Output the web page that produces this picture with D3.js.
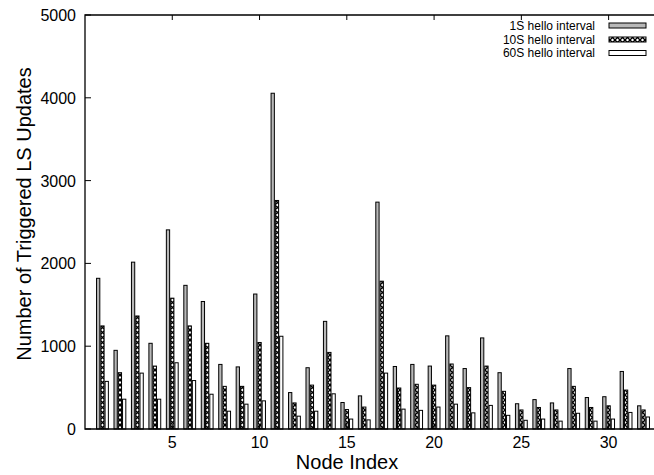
<!DOCTYPE html>
<html lang="en">
<head>
<meta charset="utf-8">
<title>Triggered LS Updates</title>
<script src="https://d3js.org/d3.v7.min.js"></script>
<style>
  body { margin: 0; background: #fff; }
  text { font-family: "Liberation Sans", Arial, Helvetica, sans-serif; fill: #000; }
</style>
</head>
<body>
<svg id="chart" width="654" height="475"></svg>
<script>
// data
const nodes = [1,2,3,4,5,6,7,8,9,10,11,12,13,14,15,16,17,18,19,20,21,22,23,24,25,26,27,28,29,30,31,32];
const hello1 = [1820, 950, 2015, 1035, 2405, 1735, 1540, 780, 750, 1630, 4055, 440, 740, 1300, 320, 400, 2740, 755, 780, 760, 1125, 730, 1100, 680, 305, 355, 315, 730, 380, 390, 695, 280];
const hello10 = [1245, 680, 1365, 760, 1580, 1245, 1035, 515, 515, 1045, 2760, 315, 530, 925, 235, 265, 1785, 495, 540, 530, 785, 500, 760, 455, 230, 260, 230, 515, 260, 280, 470, 230];
const hello60 = [575, 360, 675, 360, 800, 585, 420, 215, 300, 340, 1120, 155, 215, 425, 120, 110, 675, 240, 225, 265, 300, 195, 285, 165, 105, 120, 95, 190, 95, 120, 200, 145];
const seriesNames = ["1S hello interval", "10S hello interval", "60S hello interval"];
const yTicks = [0, 1000, 2000, 3000, 4000, 5000];
const xTicks = [5, 10, 15, 20, 25, 30];

const svg = d3.select("#chart");
const pLeft = 85, pRight = 654, pTop = 15, pBottom = 429;

const x = d3.scaleLinear().domain([0, 32.6]).range([pLeft, pRight]);
const y = d3.scaleLinear().domain([0, 5000]).range([pBottom, pTop]);

// crosshatch pattern for the 10S series
const defs = svg.append("defs");
const pat = defs.append("pattern")
    .attr("id", "xhatch")
    .attr("patternUnits", "userSpaceOnUse")
    .attr("width", 5).attr("height", 5);
pat.append("rect").attr("width", 5).attr("height", 5).attr("fill", "#fff");
pat.append("path").attr("d", "M0,0L5,5M5,0L0,5").attr("stroke", "#000").attr("stroke-width", 1.3);

const fills = ["#b8b8b8", "url(#xhatch)", "#ffffff"];
const series = [hello1, hello10, hello60];
const off = 0.245; // bar width in x units

// bars
series.forEach((vals, k) => {
    svg.append("g").selectAll("rect")
        .data(nodes)
        .enter()
        .append("rect")
        .attr("x", (d, i) => x(d + (k - 1) * off - off / 2) + 0.5)
        .attr("width", x(off) - x(0) - 1)
        .attr("y", (d, i) => y(vals[i]))
        .attr("height", (d, i) => y(0) - y(vals[i]))
        .attr("fill", fills[k])
        .attr("stroke", "#000")
        .attr("stroke-width", 1);
});

// axes frame
svg.append("path")
    .attr("d", `M${pRight},${pTop}H${pLeft}V${pBottom}H${pRight}`)
    .attr("fill", "none").attr("stroke", "#000").attr("stroke-width", 1.3);

// y axis ticks + labels
const yAxis = svg.append("g");
yAxis.selectAll("line").data(yTicks).enter().append("line")
    .attr("x1", pLeft).attr("x2", pLeft + 6)
    .attr("y1", d => y(d)).attr("y2", d => y(d))
    .attr("stroke", "#000");
yAxis.selectAll("text").data(yTicks).enter().append("text")
    .attr("x", 76).attr("y", d => y(d) + 6)
    .attr("text-anchor", "end")
    .style("font-size", "16px")
    .text(d => d);

// x axis ticks (bottom + mirrored top) + labels
const xAxis = svg.append("g");
xAxis.selectAll("line.b").data(xTicks).enter().append("line")
    .attr("class", "b")
    .attr("x1", d => x(d)).attr("x2", d => x(d))
    .attr("y1", pBottom).attr("y2", pBottom - 5)
    .attr("stroke", "#000");
xAxis.selectAll("line.t").data(xTicks).enter().append("line")
    .attr("class", "t")
    .attr("x1", d => x(d)).attr("x2", d => x(d))
    .attr("y1", pTop).attr("y2", pTop + 5)
    .attr("stroke", "#000");
xAxis.selectAll("text").data(xTicks).enter().append("text")
    .attr("x", d => x(d)).attr("y", 448)
    .attr("text-anchor", "middle")
    .style("font-size", "16px")
    .text(d => d);

// axis titles
svg.append("text")
    .attr("x", 347).attr("y", 469)
    .attr("text-anchor", "middle")
    .style("font-size", "20px")
    .text("Node Index");
svg.append("text")
    .attr("transform", "translate(31,214) rotate(-90)")
    .attr("text-anchor", "middle")
    .style("font-size", "20px")
    .text("Number of Triggered LS Updates");

// legend
const legend = svg.append("g");
const rowY = [25.5, 39.5, 53];
seriesNames.forEach((name, k) => {
    legend.append("text")
        .attr("x", 595).attr("y", rowY[k] + 4.3)
        .attr("text-anchor", "end")
        .style("font-size", "12px")
        .text(name);
    legend.append("rect")
        .attr("x", 609).attr("y", rowY[k] - 2.5)
        .attr("width", 37).attr("height", 5)
        .attr("fill", fills[k])
        .attr("stroke", "#000").attr("stroke-width", 1);
});
</script>
</body>
</html>
